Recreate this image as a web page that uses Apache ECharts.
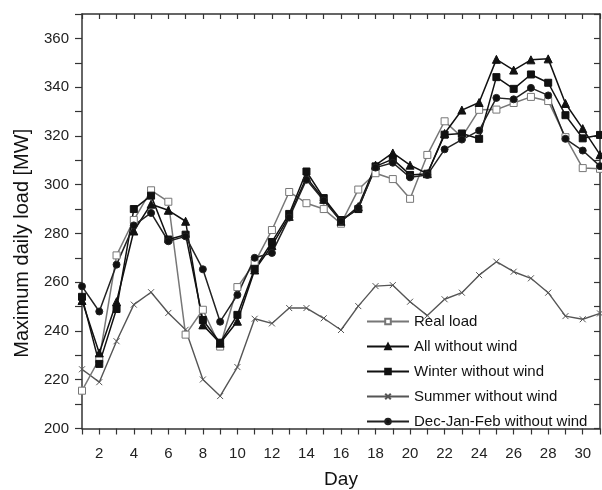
<!DOCTYPE html>
<html>
<head>
<meta charset="utf-8">
<script src="https://cdn.jsdelivr.net/npm/echarts@6/dist/echarts.min.js"></script>
<style>
html,body{margin:0;padding:0;background:#fff;}
#chart{width:602px;height:490px;}
</style>
</head>
<body>
<div id="chart"></div>
<script>
var days = [1,2,3,4,5,6,7,8,9,10,11,12,13,14,15,16,17,18,19,20,21,22,23,24,25,26,27,28,29,30,31];
var realLoad = [215.5,228.5,271,285.5,297.7,293,238.5,248.7,233.6,258,268,281.4,297,292.4,290,284,298,304.7,302.3,294.2,312.2,326,319.5,330.7,330.8,333.5,336,334.3,319.5,306.8,306.5];
var allWithoutWind = [252.5,231,252,281,292,289.5,285,242.5,235,244,265,275,287,303,294,285,291,308,313,308,304.5,321,330.6,333.7,351.4,347,351.2,351.6,333.3,323,312.3];
var winterWithoutWind = [254,226.5,249,290,295.5,277.5,279.5,244.5,235.2,246.6,265.5,276.5,288,305.4,294.5,285.5,290,307.5,310.5,304,304.5,320.5,321,318.8,344.1,339.3,345.2,341.8,328.5,319,320.4];
var summerWithoutWind = [224.3,219,235.8,250.8,255.9,247.4,240.5,220.1,213.3,225.2,245,243.1,249.4,249.4,245.2,240.4,250.2,258.4,258.8,252,246.3,253,255.7,262.9,268.4,264.3,261.6,255.7,246.1,244.8,247.2];
var djfWithoutWind = [258.3,248,267.2,283.3,288.4,276.8,278.8,265.3,243.8,254.8,270,272,286.5,302,293.5,285,290.5,307,309,303,304,314.5,318.5,322.2,335.6,335,339.7,336.6,318.8,314,307.6];
var seriesNames = ['Real load','All without wind','Winter without wind','Summer without wind','Dec-Jan-Feb without wind'];

function pairs(vals){ return days.map(function(d,i){ return [d, vals[i]]; }); }

var FONT = 'Liberation Sans, Arial, sans-serif';
var AX = '#333';
var chart = echarts.init(document.getElementById('chart'), null, {renderer:'canvas'});

function mkLine(name, vals, color, symbol, size, fill, lw){
  return {
    name: name, type: 'line', data: pairs(vals),
    symbol: symbol, symbolSize: size, showSymbol: true,
    lineStyle: {color: color, width: lw},
    itemStyle: {color: fill, borderColor: color, borderWidth: 1},
    emphasis: {disabled: true},
    animation: false
  };
}

var option = {
  backgroundColor: '#fff',
  animation: false,
  grid: {left: 82, right: 2, top: 14, bottom: 61.5, containLabel: false, outerBoundsMode: 'none'},
  legend: {
    orient: 'vertical', left: 361, top: 309,
    itemWidth: 42, itemHeight: 7, itemGap: 10,
    textStyle: {fontFamily: FONT, fontSize: 15, color: '#111', lineHeight: 15},
    data: seriesNames
  },
  xAxis: [{
    type: 'value', min: 1, max: 31, interval: 1,
    name: 'Day', nameLocation: 'middle', nameGap: 42,
    nameTextStyle: {fontFamily: FONT, fontSize: 19, color: '#111'},
    axisLine: {show: true, onZero: false, lineStyle: {color: AX, width: 1.5}},
    axisTick: {show: true, inside: false, length: 6, lineStyle: {color: AX, width: 1.2}},
    axisLabel: {fontFamily: FONT, fontSize: 15, color: '#222', margin: 18,
      formatter: function(v){ return (v % 2 === 0) ? String(v) : ''; }},
    splitLine: {show: false}
  },{
    type: 'value', min: 1, max: 31, interval: 1, position: 'top',
    axisLine: {show: true, onZero: false, lineStyle: {color: AX, width: 1.5}},
    axisTick: {show: true, inside: true, length: 5, lineStyle: {color: AX, width: 1.2}},
    axisLabel: {show: false}, splitLine: {show: false}
  }],
  yAxis: [{
    type: 'value', min: 200, max: 370, interval: 10,
    name: 'Maximum daily load [MW]', nameLocation: 'middle', nameGap: 50, nameRotate: 90,
    nameTextStyle: {fontFamily: FONT, fontSize: 20, color: '#111', padding: [0, 44, 0, 0]},
    axisLine: {show: true, onZero: false, lineStyle: {color: AX, width: 1.5}},
    axisTick: {show: true, inside: false, length: 7, lineStyle: {color: AX, width: 1.2}},
    axisLabel: {fontFamily: FONT, fontSize: 15, color: '#222', margin: 13,
      formatter: function(v){ return (v % 20 === 0 && v < 370) ? String(v) : ''; }},
    splitLine: {show: false}
  },{
    type: 'value', min: 200, max: 370, interval: 10, position: 'right',
    axisLine: {show: true, onZero: false, lineStyle: {color: AX, width: 1.5}},
    axisTick: {show: true, inside: true, length: 6, lineStyle: {color: AX, width: 1.2}},
    axisLabel: {show: false}, splitLine: {show: false}
  }],
  series: [
    mkLine(seriesNames[3], summerWithoutWind, '#555', 'path://M0,0L10,10M10,0L0,10', 6, '#555', 1.4),
    mkLine(seriesNames[0], realLoad, '#777', 'rect', 7, '#fff', 1.5),
    mkLine(seriesNames[1], allWithoutWind, '#111', 'triangle', 8, '#111', 1.5),
    mkLine(seriesNames[2], winterWithoutWind, '#111', 'rect', 7, '#111', 1.5),
    mkLine(seriesNames[4], djfWithoutWind, '#222', 'circle', 7, '#111', 1.5)
  ]
};
chart.setOption(option);
</script>
</body>
</html>
